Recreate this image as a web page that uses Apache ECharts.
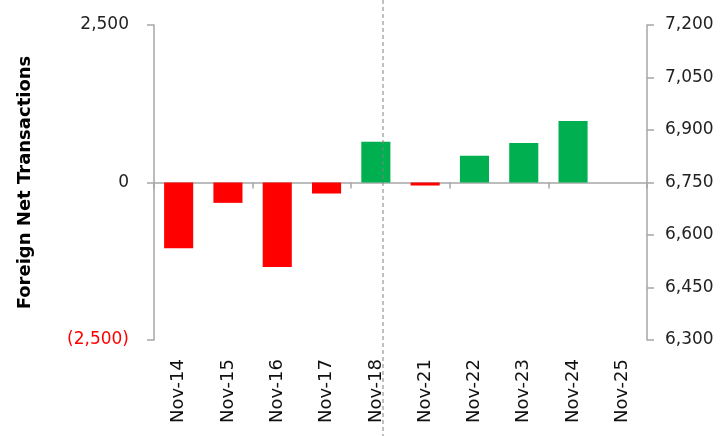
<!DOCTYPE html>
<html>
<head>
<meta charset="utf-8">
<script src="https://cdn.jsdelivr.net/npm/echarts@6/dist/echarts.min.js"></script>
<style>
  html, body { margin: 0; padding: 0; background: #fff; }
  #chart { width: 726px; height: 436px; }
</style>
</head>
<body>
<div id="chart"></div>
<script>
var categories = ["Nov-14", "Nov-15", "Nov-16", "Nov-17", "Nov-18", "Nov-21", "Nov-22", "Nov-23", "Nov-24", "Nov-25"];
var netTransactions = [-1045, -323, -1342, -175, 648, -48, 425, 627, 978, 0];
var leftTicks = [-2500, 0, 2500];
var rightTicks = [6300, 6450, 6600, 6750, 6900, 7050, 7200];

var chart = echarts.init(document.getElementById("chart"));
var fontName = "DejaVu Sans";

function fmt(v) {
  return Math.abs(v).toString().replace(/\B(?=(\d{3})+(?!\d))/g, ",");
}

var option = {
  animation: false,
  grid: { left: 154, right: 79, top: 25, bottom: 96 },
  xAxis: [
    {
      type: "category",
      data: categories,
      position: "bottom",
      axisLine: { show: false, onZero: false },
      axisTick: { show: false },
      axisLabel: {
        rotate: 90,
        margin: 19,
        color: "#111",
        fontFamily: fontName,
        fontSize: 18
      }
    },
    {
      type: "category",
      data: categories,
      position: "top",
      axisLine: { onZero: true, onZeroAxisIndex: 0, lineStyle: { color: "#a6a6a6", width: 1.5 } },
      axisTick: { show: true, inside: true, length: 6, lineStyle: { color: "#a6a6a6", width: 1.5 } },
      axisLabel: { show: false }
    }
  ],
  yAxis: [
    {
      type: "value",
      min: leftTicks[0],
      max: leftTicks[leftTicks.length - 1],
      interval: 2500,
      position: "left",
      name: "Foreign Net Transactions",
      nameLocation: "middle",
      nameGap: 120,
      nameTextStyle: { fontFamily: fontName, fontWeight: "bold", fontSize: 18, color: "#000" },
      splitLine: { show: false },
      axisLine: { show: true, lineStyle: { color: "#a6a6a6", width: 1.5 } },
      axisTick: { show: true, length: 7, lineStyle: { color: "#a6a6a6", width: 1.5 } },
      axisLabel: {
        margin: 25,
        fontFamily: fontName,
        fontSize: 17,
        color: "#222",
        formatter: function (v) {
          return v < 0 ? "{neg|(" + fmt(v) + ")}" : fmt(v);
        },
        rich: { neg: { color: "#ff0000", fontFamily: fontName, fontSize: 17 } }
      }
    },
    {
      type: "value",
      min: rightTicks[0],
      max: rightTicks[rightTicks.length - 1],
      interval: 150,
      position: "right",
      splitLine: { show: false },
      axisLine: { show: true, lineStyle: { color: "#a6a6a6", width: 1.5 } },
      axisTick: { show: true, length: 7, lineStyle: { color: "#a6a6a6", width: 1.5 } },
      axisLabel: {
        margin: 18,
        fontFamily: fontName,
        fontSize: 17,
        color: "#222",
        formatter: function (v) { return fmt(v); }
      }
    }
  ],
  series: [
    {
      type: "bar",
      xAxisIndex: 0,
      yAxisIndex: 0,
      data: netTransactions,
      barWidth: "59%",
      itemStyle: {
        color: function (p) { return p.value < 0 ? "#ff0000" : "#00b050"; }
      }
    }
  ],
  graphic: [
    {
      type: "line",
      shape: { x1: 383, y1: 0, x2: 383, y2: 436 },
      style: { stroke: "#808080", lineWidth: 1, lineDash: [4, 3] },
      z: 100
    }
  ]
};

chart.setOption(option);
</script>
</body>
</html>
